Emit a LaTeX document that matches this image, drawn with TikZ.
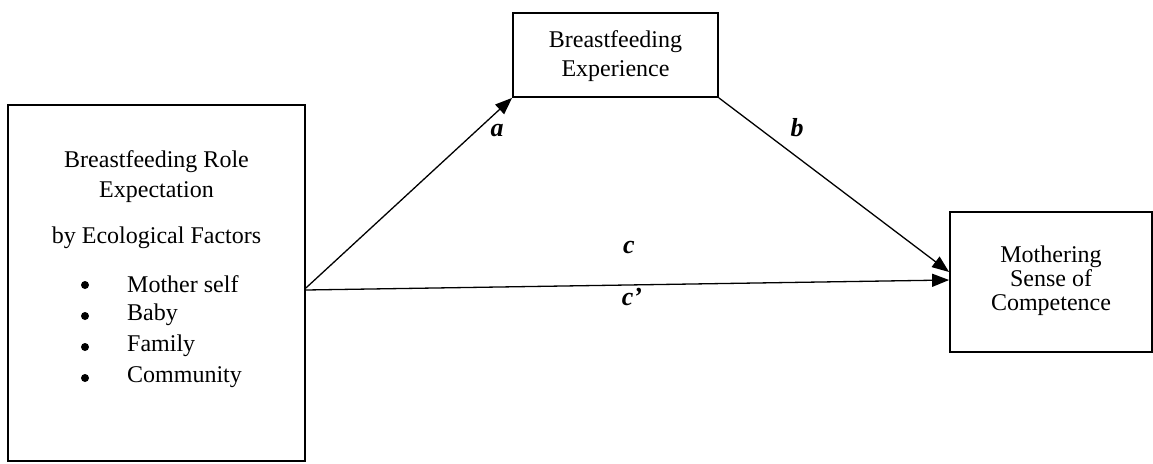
\documentclass[tikz,border=0pt]{standalone}
\usepackage{fontspec}
\setmainfont{Liberation Serif}
\usetikzlibrary{arrows.meta}
\begin{document}
\begin{tikzpicture}[x=1pt,y=-1pt,
  box/.style={draw, line width=1.8pt, inner sep=0pt},
  txt/.style={inner sep=0pt, font=\fontsize{24}{28}\selectfont},
  dot/.style={circle, fill, inner sep=0pt, minimum size=8pt},
  lbl/.style={inner sep=0pt, font=\fontsize{26}{30}\selectfont\bfseries\itshape},
  conn/.style={line width=1.3pt, -{Triangle[length=17pt,width=13pt]}}]
\useasboundingbox (0,0) rectangle (1153,463);
% boxes
\node[box, minimum width=297pt, minimum height=356pt] (L) at (156.5,283) {};
\node[box, minimum width=205pt, minimum height=84pt] (T) at (615.5,55) {};
\node[box, minimum width=202pt, minimum height=140pt] (R) at (1051,282) {};
% left box text
\node[txt] (l1) at (156.5,162) {Breastfeeding Role};
\node[txt] (l2) at (156.5,192) {Expectation};
\node[txt] (l3) at (156.5,238) {by Ecological Factors};
\node[dot] (b1) at (85,285) {};
\node[dot] (b2) at (85,316) {};
\node[dot] (b3) at (85,347) {};
\node[dot] (b4) at (85,378) {};
\node[txt, anchor=west] (t1) at (127,284) {Mother self};
\node[txt, anchor=west] (t2) at (127,315) {Baby};
\node[txt, anchor=west] (t3) at (127,346) {Family};
\node[txt, anchor=west] (t4) at (127,377) {Community};
% top box text
\node[txt] (m1) at (615.5,42) {Breastfeeding};
\node[txt] (m2) at (615.5,71) {Experience};
% right box text
\node[txt, align=center, font=\fontsize{24}{24}\selectfont] (rt) at (1051,281) {Mothering\\Sense of\\Competence};
% connectors
\draw[conn] ([yshift=-5pt]L.east) -- (T.south west);
\draw[conn] (T.south east) -- ([yshift=10pt]R.west);
\draw[conn] ([yshift=-7pt]L.east) -- ([yshift=2pt]R.west);
% labels
\node[lbl] (la) at (497,131) {a};
\node[lbl] (lb) at (797,128) {b};
\node[lbl] (lc) at (629,247) {c};
\node[lbl] (lcp) at (632,297) {c’};
\end{tikzpicture}
\end{document}
